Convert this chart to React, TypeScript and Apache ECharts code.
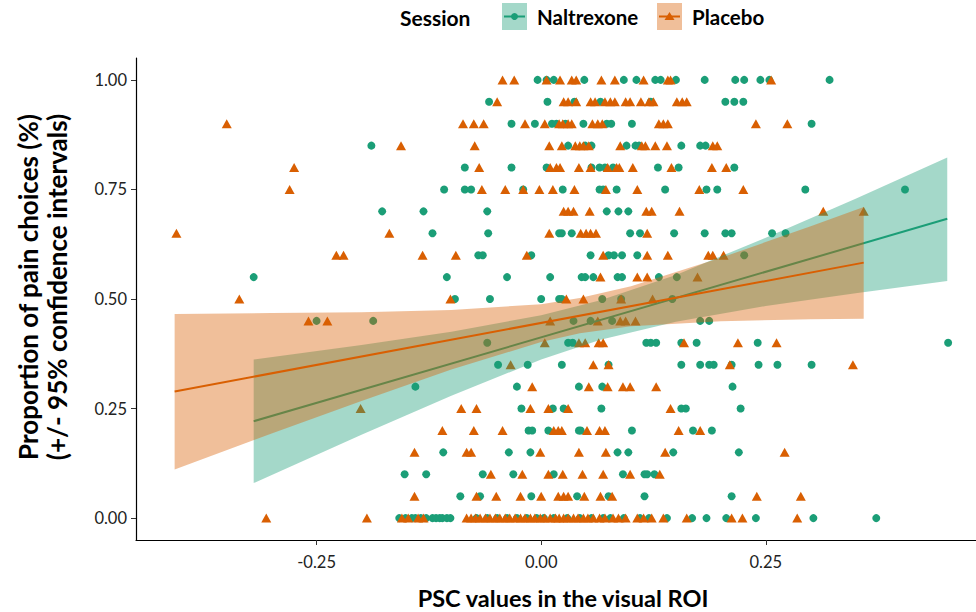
import React, { useEffect, useRef } from "react";
import * as echarts from "echarts";

// y levels (proportion of pain choices) for each row of points
const levels = [1.0, 0.95, 0.9, 0.85, 0.8, 0.75, 0.7, 0.65, 0.6, 0.55, 0.5, 0.45, 0.4, 0.35, 0.3, 0.25, 0.2, 0.15, 0.1, 0.05, 0.0];

// PSC values per level, Naltrexone session
const naltrexoneX: number[][] = [
  [-0.004, 0.006, 0.014, 0.048, 0.092, 0.106, 0.127, 0.133, 0.15, 0.182, 0.216, 0.226, 0.244, 0.254, 0.321],
  [-0.058, 0.007, 0.037, 0.066, 0.122, 0.205, 0.215, 0.225],
  [-0.033, -0.007, 0.012, 0.017, 0.027, 0.047, 0.073, 0.078, 0.101, 0.301],
  [-0.189, 0.03, 0.049, 0.056, 0.095, 0.105, 0.109, 0.156, 0.177, 0.183],
  [-0.085, -0.033, 0.006, 0.056, 0.065, 0.071, 0.08, 0.13, 0.153, 0.215],
  [-0.108, -0.085, -0.078, -0.02, 0.024, 0.065, 0.069, 0.084, 0.138, 0.184, 0.196, 0.294, 0.405],
  [-0.177, -0.131, -0.06, 0.073, 0.086, 0.097],
  [-0.121, -0.059, 0.02, 0.023, 0.034, 0.099, 0.11, 0.148, 0.182, 0.205, 0.212, 0.257, 0.272],
  [-0.07, -0.065, -0.011, 0.055, 0.075, 0.081, 0.09, 0.107, 0.226],
  [-0.32, -0.105, -0.038, 0.01, 0.045, 0.049, 0.058, 0.085, 0.09, 0.131, 0.151],
  [-0.096, -0.057, 0.0, 0.02, 0.023, 0.068, 0.089, 0.146],
  [-0.25, -0.187, 0.036, 0.055, 0.079, 0.177, 0.187],
  [-0.06, 0.03, 0.035, 0.117, 0.122, 0.128, 0.156, 0.173, 0.241, 0.453],
  [-0.048, -0.015, 0.023, 0.075, 0.156, 0.177, 0.187, 0.192, 0.212, 0.242, 0.263, 0.301],
  [-0.14, -0.027, 0.042, 0.068, 0.213],
  [-0.022, 0.013, 0.025, 0.067, 0.156, 0.161, 0.222],
  [-0.014, -0.01, 0.008, 0.042, 0.044, 0.101, 0.169, 0.19],
  [-0.109, -0.036, -0.012, 0.085, 0.097, 0.147, 0.22],
  [-0.152, -0.128, -0.065, -0.031, 0.014, 0.091, 0.115, 0.118, 0.126],
  [-0.09, -0.068, -0.011, 0.04, 0.075, 0.115, 0.212],
  [-0.158, -0.151, -0.144, -0.14, -0.134, -0.128, -0.121, -0.117, -0.113, -0.11, -0.105, -0.101, -0.072, -0.06, -0.049, -0.038, -0.027, -0.016, -0.005, 0.003, 0.014, 0.029, 0.043, 0.056, 0.069, 0.077, 0.092, 0.11, 0.12, 0.14, 0.168, 0.184, 0.206, 0.239, 0.303, 0.373],
];

// PSC values per level, Placebo session
const placeboX: number[][] = [
  [-0.043, -0.03, 0.006, 0.021, 0.034, 0.039, 0.067, 0.082, 0.114, 0.141, 0.144, 0.256],
  [-0.049, 0.025, 0.03, 0.039, 0.055, 0.06, 0.071, 0.077, 0.082, 0.094, 0.099, 0.111, 0.12, 0.125, 0.151, 0.157, 0.162],
  [-0.35, -0.087, -0.075, -0.064, -0.018, 0.004, 0.02, 0.024, 0.03, 0.034, 0.057, 0.063, 0.068, 0.131, 0.136, 0.141, 0.239, 0.274],
  [-0.156, -0.074, 0.009, 0.023, 0.038, 0.043, 0.047, 0.053, 0.088, 0.112, 0.116, 0.127, 0.14, 0.191, 0.196],
  [-0.275, -0.069, 0.01, 0.017, 0.021, 0.042, 0.055, 0.074, 0.084, 0.087, 0.102, 0.145, 0.19, 0.206],
  [-0.28, -0.066, -0.04, -0.02, -0.002, 0.013, 0.037, 0.072, 0.107, 0.176, 0.225],
  [0.025, 0.03, 0.036, 0.054, 0.117, 0.123, 0.154, 0.314, 0.359],
  [-0.406, -0.169, 0.009, 0.044, 0.05, 0.055, 0.061, 0.118],
  [-0.228, -0.22, -0.132, -0.095, -0.016, 0.069, 0.118, 0.141, 0.186, 0.191, 0.203],
  [0.066, 0.107, 0.118, 0.174],
  [-0.336, -0.101, 0.028, 0.047, 0.089, 0.124],
  [-0.259, -0.238, 0.01, 0.063, 0.088, 0.094, 0.105],
  [0.004, 0.042, 0.049, 0.064, 0.069, 0.159, 0.219, 0.262],
  [-0.034, 0.058, 0.075, 0.21, 0.347],
  [-0.01, 0.053, 0.074, 0.091, 0.099, 0.128],
  [-0.201, -0.089, -0.072, -0.012, 0.008, 0.03, 0.144],
  [-0.11, -0.075, -0.043, 0.014, 0.019, 0.023, 0.051, 0.065, 0.071, 0.153, 0.177],
  [-0.141, -0.083, -0.078, -0.001, 0.042, 0.072, 0.138, 0.271],
  [-0.056, -0.021, 0.008, 0.024, 0.046, 0.069, 0.099, 0.132],
  [-0.141, -0.072, -0.05, -0.023, 0.0, 0.019, 0.025, 0.03, 0.048, 0.066, 0.079, 0.24, 0.289],
  [-0.306, -0.194, -0.155, -0.148, -0.137, -0.131, -0.083, -0.078, -0.073, -0.068, -0.062, -0.057, -0.051, -0.046, -0.04, -0.035, -0.029, -0.023, -0.018, -0.012, -0.007, -0.001, 0.004, 0.01, 0.016, 0.02, 0.025, 0.03, 0.036, 0.041, 0.047, 0.052, 0.058, 0.065, 0.071, 0.08, 0.086, 0.094, 0.107, 0.114, 0.123, 0.136, 0.162, 0.212, 0.224, 0.285],
];

// Linear fits and 95% confidence bands
const naltrexoneFitX = [-0.32, 0.452];
const naltrexoneFitY = [0.221, 0.683];
const naltrexoneBandX = [-0.32, -0.2, -0.1, 0, 0.066, 0.15, 0.25, 0.35, 0.452];
const naltrexoneBandLo = [0.08, 0.19, 0.279, 0.362, 0.407, 0.448, 0.484, 0.513, 0.541];
const naltrexoneBandHi = [0.362, 0.395, 0.425, 0.463, 0.497, 0.555, 0.64, 0.729, 0.823];

const placeboFitX = [-0.408, 0.359];
const placeboFitY = [0.289, 0.583];
const placeboBandX = [-0.408, -0.3, -0.2, -0.1, 0, 0.043, 0.1, 0.2, 0.3, 0.359];
const placeboBandLo = [0.111, 0.193, 0.267, 0.339, 0.402, 0.422, 0.438, 0.449, 0.454, 0.455];
const placeboBandHi = [0.466, 0.468, 0.47, 0.475, 0.488, 0.502, 0.529, 0.594, 0.666, 0.71];

const xTicks = [-0.25, 0, 0.25];
const yTicks = [0, 0.25, 0.5, 0.75, 1];

const GREEN = "#1B9E77";
const ORANGE = "#D95F02";
const GREEN_FILL = "rgba(27,158,119,0.4)";
const ORANGE_FILL = "rgba(217,95,2,0.4)";
const FONT = "Lato, 'Open Sans', 'DejaVu Sans', sans-serif";

function toPoints(xs: number[][]) {
  const out: number[][] = [];
  xs.forEach((row, i) => row.forEach((x) => out.push([x, levels[i]])));
  return out;
}

function bandSeries(name: string, xs: number[], lo: number[], hi: number[], fill: string, z: number) {
  const rows = xs.map((x, i) => [x, lo[i], hi[i]]);
  return {
    type: "custom",
    name,
    coordinateSystem: "cartesian2d",
    silent: true,
    z,
    data: rows,
    encode: { x: 0, y: [1, 2] },
    renderItem: (params: any, api: any) => {
      if (params.dataIndex !== 0) return null;
      const upper = xs.map((x, i) => api.coord([x, hi[i]]));
      const lower = xs.map((x, i) => api.coord([x, lo[i]])).reverse();
      return { type: "polygon", shape: { points: upper.concat(lower) }, style: { fill } };
    },
  };
}

export default function App() {
  const ref = useRef<HTMLDivElement>(null);
  useEffect(() => {
    if (!ref.current) return;
    const chart = echarts.init(ref.current, null, { renderer: "svg" });
    const axisLabelStyle = { color: "#222", fontSize: 16.5, fontFamily: FONT };
    chart.setOption({
      animation: false,
      backgroundColor: "#fff",
      grid: { left: 136, right: 0, top: 58, bottom: 72, containLabel: false },
      xAxis: {
        type: "value",
        min: -0.451,
        max: 0.484,
        splitLine: { show: false },
        axisLine: { show: true, onZero: false, lineStyle: { color: "#000", width: 1.2 } },
        axisTick: { show: true, customValues: xTicks, length: 5, lineStyle: { color: "#333" } },
        axisLabel: { customValues: xTicks, margin: 13, formatter: (v: number) => v.toFixed(2), ...axisLabelStyle },
      },
      yAxis: {
        type: "value",
        min: -0.05,
        max: 1.05,
        splitLine: { show: false },
        axisLine: { show: true, onZero: false, lineStyle: { color: "#000", width: 1.2 } },
        axisTick: { show: true, customValues: yTicks, length: 5, lineStyle: { color: "#333" } },
        axisLabel: { customValues: yTicks, margin: 9, formatter: (v: number) => v.toFixed(2), ...axisLabelStyle },
      },
      series: [
        {
          type: "scatter",
          name: "Naltrexone",
          z: 1,
          symbol: "circle",
          symbolSize: 8,
          itemStyle: { color: GREEN, opacity: 1 },
          data: toPoints(naltrexoneX),
        },
        {
          type: "scatter",
          name: "Placebo",
          z: 1,
          symbol: "triangle",
          symbolSize: [10, 9],
          itemStyle: { color: ORANGE, opacity: 1 },
          data: toPoints(placeboX),
        },
        bandSeries("Naltrexone CI", naltrexoneBandX, naltrexoneBandLo, naltrexoneBandHi, GREEN_FILL, 2),
        {
          type: "line",
          name: "Naltrexone fit",
          z: 3,
          showSymbol: false,
          silent: true,
          lineStyle: { color: GREEN, width: 2 },
          data: naltrexoneFitX.map((x, i) => [x, naltrexoneFitY[i]]),
        },
        bandSeries("Placebo CI", placeboBandX, placeboBandLo, placeboBandHi, ORANGE_FILL, 4),
        {
          type: "line",
          name: "Placebo fit",
          z: 5,
          showSymbol: false,
          silent: true,
          lineStyle: { color: ORANGE, width: 2 },
          data: placeboFitX.map((x, i) => [x, placeboFitY[i]]),
        },
      ],
      graphic: [
        {
          type: "text",
          x: 563,
          y: 598,
          style: { text: "PSC values in the visual ROI", font: `bold 23.5px ${FONT}`, fill: "#000", align: "center", verticalAlign: "middle" },
        },
        {
          type: "text",
          x: 42,
          y: 287,
          rotation: Math.PI / 2,
          style: {
            text: "Proportion of pain choices (%)\n(+/- 95% confidence intervals)",
            font: `bold 26px ${FONT}`,
            lineHeight: 29,
            fill: "#000",
            align: "center",
            verticalAlign: "middle",
          },
        },
        {
          type: "text",
          x: 400,
          y: 17,
          style: { text: "Session", font: `bold 21px ${FONT}`, fill: "#000", align: "left", verticalAlign: "middle" },
        },
        { type: "rect", shape: { x: 502, y: 3, width: 25, height: 27 }, style: { fill: GREEN_FILL } },
        { type: "line", shape: { x1: 504, y1: 16.5, x2: 525, y2: 16.5 }, style: { stroke: GREEN, lineWidth: 2 } },
        { type: "circle", shape: { cx: 514.5, cy: 16.5, r: 3.5 }, style: { fill: GREEN } },
        {
          type: "text",
          x: 537,
          y: 17,
          style: { text: "Naltrexone", font: `bold 20.5px ${FONT}`, fill: "#000", align: "left", verticalAlign: "middle" },
        },
        { type: "rect", shape: { x: 657, y: 3, width: 25, height: 27 }, style: { fill: ORANGE_FILL } },
        { type: "line", shape: { x1: 659, y1: 16.5, x2: 680, y2: 16.5 }, style: { stroke: ORANGE, lineWidth: 2 } },
        { type: "polygon", shape: { points: [[669.5, 12], [674.5, 20], [664.5, 20]] }, style: { fill: ORANGE } },
        {
          type: "text",
          x: 692,
          y: 17,
          style: { text: "Placebo", font: `bold 20.5px ${FONT}`, fill: "#000", align: "left", verticalAlign: "middle" },
        },
      ],
    });
    return () => chart.dispose();
  }, []);
  return <div ref={ref} style={{ position: "fixed", left: 0, top: 0, width: 976, height: 612 }} />;
}
